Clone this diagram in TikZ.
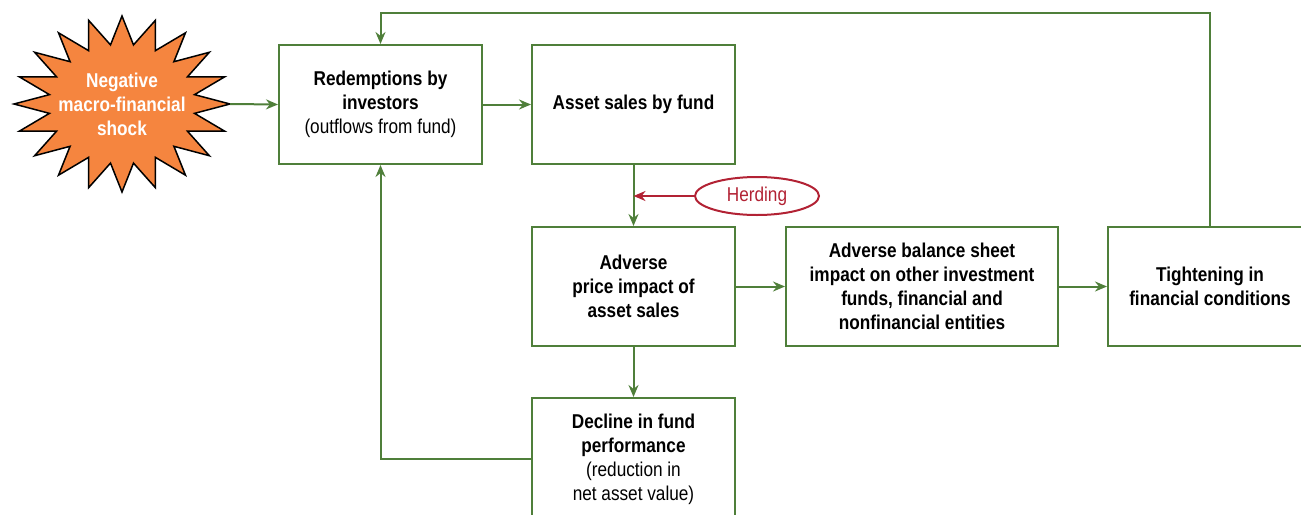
\documentclass[tikz,border=0pt]{standalone}
\usepackage{fontspec}
\setmainfont{Liberation Sans}[FakeStretch=0.86]
\usepackage{tikz}
\usetikzlibrary{arrows.meta,shapes.geometric,calc}
\definecolor{fundgreen}{HTML}{4F7F3A}
\definecolor{herdred}{HTML}{B22234}
\definecolor{shockorange}{HTML}{F5853F}
\tikzset{
  box/.style={draw=fundgreen,line width=2pt,fill=white,minimum width=203pt,minimum height=119pt,align=center,font=\fontsize{20}{24}\selectfont,inner sep=0pt},
  flow/.style={draw=fundgreen,line width=2pt,-{Stealth[length=12pt,width=10pt]}},
  feed/.style={draw=fundgreen,line width=2pt},
  herd/.style={ellipse,draw=herdred,line width=2pt,minimum width=124pt,minimum height=38pt,text=herdred,font=\fontsize{20}{24}\selectfont},
  herdarrow/.style={draw=herdred,line width=2pt,-{Stealth[length=12pt,width=10pt]}}
}
\begin{document}
\begin{tikzpicture}[x=1pt,y=-1pt]
  \useasboundingbox (0,0) rectangle (1301,514);
  \clip (0,0) rectangle (1301,514);
  % shock star
  \draw[black,line width=1.5pt,fill=shockorange] plot[samples=41,domain=0:40]
     ({122+108*(1-0.32*mod(\x,2))*cos(\x*9)},{104+88*(1-0.32*mod(\x,2))*sin(\x*9)}) -- cycle;
  \node[text=white,align=center,font=\fontsize{20}{24}\selectfont\bfseries] (shock) at (122,104)
     {Negative\\macro-financial\\shock};
  \coordinate (tip) at (230,104);
  % boxes
  \node[box] (redeem) at (380.5,104.5) {\textbf{Redemptions by}\\\textbf{investors}\\(outflows from fund)};
  \node[box] (sales) at (633.5,104.5) {\textbf{Asset sales by fund}};
  \node[box] (price) at (633.5,286.5) {\textbf{Adverse}\\\textbf{price impact of}\\\textbf{asset sales}};
  \node[box,minimum width=272pt] (sheet) at (922,286.5) {\textbf{Adverse balance sheet}\\\textbf{impact on other investment}\\\textbf{funds, financial and}\\\textbf{nonfinancial entities}};
  \node[box,minimum width=204pt] (tight) at (1210,286.5) {\textbf{Tightening in}\\\textbf{financial conditions}};
  \node[box,minimum height=122pt,anchor=north] (decline) at (633.5,397) {\textbf{Decline in fund}\\\textbf{performance}\\(reduction in\\net asset value)};
  \node[herd] (herding) at (757,196) {Herding};
  % connectors
  \draw[flow] (tip) -- (redeem.west);
  \draw[flow] (redeem.east) -- (sales.west);
  \draw[flow] (sales.south) -- (price.north);
  \draw[herdarrow] (herding.west) -- (herding.west -| sales.south);
  \draw[flow] (price.east) -- (sheet.west);
  \draw[flow] (sheet.east) -- (tight.west);
  \draw[flow] (price.south) -- (decline.north);
  \draw[flow] (decline.west) -| (redeem.south);
  \coordinate (loop) at (380.5,13);
  \draw[flow] (tight.north) |- (loop) -- (redeem.north);
\end{tikzpicture}
\end{document}
